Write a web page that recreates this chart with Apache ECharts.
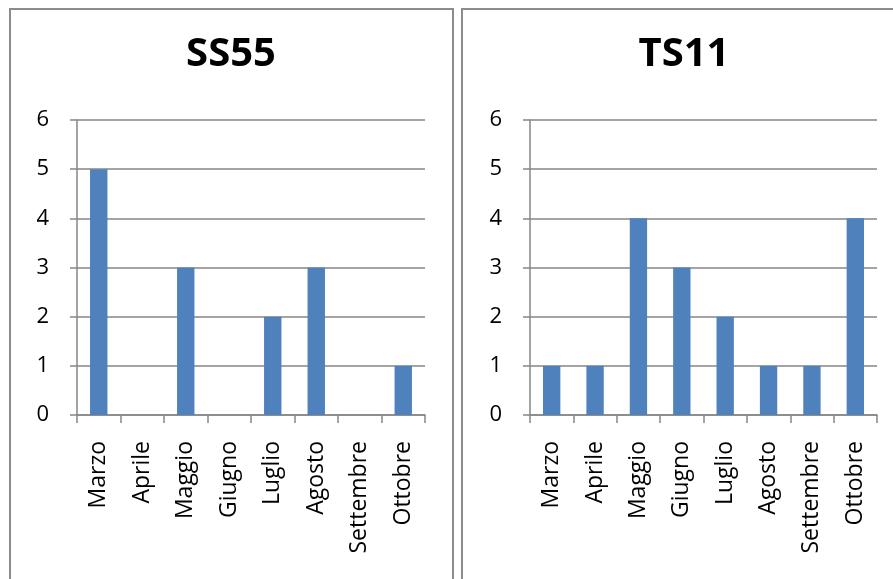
<!DOCTYPE html>
<html><head><meta charset="utf-8">
<script src="https://cdn.jsdelivr.net/npm/echarts@6/dist/echarts.min.js"></script>
<style>html,body{margin:0;padding:0;background:#fff}#c{width:893px;height:579px}</style>
</head><body><div id="c"></div>
<script>
const categories = ['Marzo','Aprile','Maggio','Giugno','Luglio','Agosto','Settembre','Ottobre'];
const titles = ['SS55','TS11'];
const ss55 = [5, 0, 3, 0, 2, 3, 0, 1];
const ts11 = [1, 1, 4, 3, 2, 1, 1, 4];
const yTicks = [0, 6, 1];

const chart = echarts.init(document.getElementById('c'));
const font = "'Open Sans', 'DejaVu Sans', sans-serif";
const gray = '#868686';
function xAxis(i){return {type:'category',gridIndex:i,data:categories,
  axisLine:{lineStyle:{color:gray,width:1.5}},
  axisTick:{show:true,length:8,alignWithLabel:false,lineStyle:{color:gray,width:1.5}},
  axisLabel:{rotate:90,fontSize:23,color:'#000',fontFamily:font,margin:26,interval:0}};}
function yAxis(i){return {type:'value',gridIndex:i,min:yTicks[0],max:yTicks[1],interval:yTicks[2],
  axisLine:{show:true,lineStyle:{color:gray,width:1.5}},
  axisTick:{show:true,length:7,lineStyle:{color:gray,width:1.5}},
  splitLine:{lineStyle:{color:gray,width:1.5}},
  axisLabel:{fontSize:22,color:'#000',fontFamily:font,margin:28}};}
chart.setOption({
  animation:false,
  title:[
    {text:titles[0],left:226,top:30,textAlign:'center',textStyle:{fontSize:40,fontWeight:'bold',fontFamily:font,color:'#000'}},
    {text:titles[1],left:679,top:30,textAlign:'center',textStyle:{fontSize:40,fontWeight:'bold',fontFamily:font,color:'#000'}}
  ],
  graphic:[
    {type:'rect',shape:{x:10,y:9,width:443,height:590},style:{fill:'none',stroke:'#8c8c8c',lineWidth:2}},
    {type:'rect',shape:{x:462,y:9,width:450,height:590},style:{fill:'none',stroke:'#8c8c8c',lineWidth:2}}
  ],
  grid:[
    {left:77,top:120,width:348,height:295},
    {left:530,top:120,width:347,height:295}
  ],
  xAxis:[xAxis(0),xAxis(1)],
  yAxis:[yAxis(0),yAxis(1)],
  series:[
    {type:'bar',xAxisIndex:0,yAxisIndex:0,data:ss55,barWidth:'40%',itemStyle:{color:'#4F81BD'}},
    {type:'bar',xAxisIndex:1,yAxisIndex:1,data:ts11,barWidth:'40%',itemStyle:{color:'#4F81BD'}}
  ]
});
</script></body></html>
